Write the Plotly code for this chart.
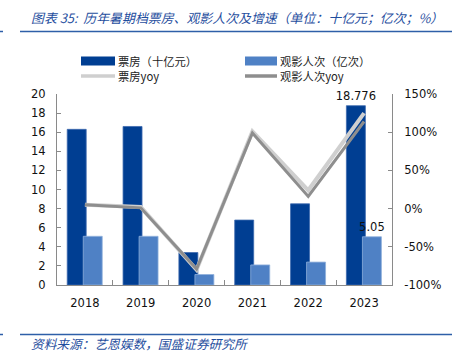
import plotly.graph_objects as go

years = ["2018", "2019", "2020", "2021", "2022", "2023"]
box_office = [16.3, 16.6, 3.4, 6.8, 8.5, 18.776]
admissions = [5.1, 5.1, 1.1, 2.1, 2.4, 5.05]
box_yoy = [5, 2, -80, 101, 24, 125]
adm_yoy = [5, 1, -79, 99, 16, 114]
left_ticks = list(range(0, 21, 2))
right_ticks = [-100, -50, 0, 50, 100, 150]
right_labels = ["-100%", "-50%", "0%", "50%", "100%", "150%"]

DARK = "#003E92"
LIGHT = "#4F81C5"
LGRAY = "#CFCFCF"
DGRAY = "#8E8E8E"
BLUE_T = "#1F4E9E"
AX = "#8A8A8A"
FONT = "DejaVu Sans"
CJK = "Noto Sans CJK SC"

bo_text = ["" for _ in box_office]
bo_text[-1] = f"{box_office[-1]:.3f}"
ad_text = ["" for _ in admissions]
ad_text[-1] = f"{admissions[-1]:.2f}"

fig = go.Figure()
fig.add_trace(go.Bar(x=years, y=box_office, name="票房（十亿元）", marker_color=DARK,
                     marker_line=dict(color="#3D6AAE", width=0.8),
                     width=0.34, offset=-0.317, text=bo_text, textposition="outside",
                     constraintext="none",
                     textfont=dict(family=FONT, size=11.5, color="#111"), cliponaxis=False))
fig.add_trace(go.Bar(x=years, y=admissions, name="观影人次（亿次）", marker_color=LIGHT,
                     marker_line=dict(color="#8FB0DC", width=0.8),
                     width=0.34, offset=-0.03, text=ad_text, textposition="outside",
                     constraintext="none",
                     textfont=dict(family=FONT, size=11.5, color="#111"), cliponaxis=False))
fig.add_trace(go.Scatter(x=years, y=box_yoy, name="票房yoy", yaxis="y2", mode="lines",
                         line=dict(color=LGRAY, width=4)))
fig.add_trace(go.Scatter(x=years, y=adm_yoy, name="观影人次yoy", yaxis="y2", mode="lines",
                         line=dict(color=DGRAY, width=3)))

fig.update_layout(
    width=452, height=353,
    margin=dict(l=57, r=60, t=94, b=68),
    paper_bgcolor="white", plot_bgcolor="white",
    barmode="overlay", showlegend=False,
    font=dict(family=FONT, size=11.5, color="#111"),
    xaxis=dict(type="category", showline=True, linecolor=AX, linewidth=1,
               ticks="inside", tickson="boundaries", ticklen=5, tickcolor=AX,
               showgrid=False, tickfont=dict(family=FONT, size=11.5, color="#111"),
               ticklabelstandoff=7),
    yaxis=dict(range=[0, 20], tickvals=left_ticks, showline=True, linecolor=AX,
               ticks="inside", ticklen=4, tickcolor=AX, showgrid=False, zeroline=False,
               tickfont=dict(family=FONT, size=11.5, color="#111"), ticklabelstandoff=8),
    yaxis2=dict(range=[-100, 150], tickvals=right_ticks, ticktext=right_labels,
                overlaying="y", side="right", showline=True, linecolor=AX,
                ticks="inside", ticklen=4, tickcolor=AX, showgrid=False, zeroline=False,
                tickfont=dict(family=FONT, size=11.5, color="#111"), ticklabelstandoff=9),
)

def px_x(p):
    return (p - 57) / 335

def px_y(p):
    return (285 - p) / 191

# title & footer
fig.add_annotation(text="图表 35:  历年暑期档票房、观影人次及增速（单位：十亿元；亿次；%）",
                   xref="paper", yref="paper", x=px_x(30), y=px_y(17),
                   xanchor="left", yanchor="middle", showarrow=False, borderpad=0,
                   font=dict(family=CJK, size=12.9, color=BLUE_T, style="italic"))
fig.add_annotation(text="资料来源：艺恩娱数，国盛证券研究所",
                   xref="paper", yref="paper", x=px_x(30), y=px_y(343.5),
                   xanchor="left", yanchor="middle", showarrow=False, borderpad=0,
                   font=dict(family=CJK, size=12.7, color=BLUE_T, style="italic"))

for yy in (31.5, 334.5):
    fig.add_shape(type="line", xref="paper", yref="paper", x0=px_x(20), x1=px_x(452),
                  y0=px_y(yy), y1=px_y(yy), line=dict(color="#2E5FA8", width=1.5))
    fig.add_shape(type="line", xref="paper", yref="paper", x0=px_x(0), x1=px_x(3),
                  y0=px_y(yy), y1=px_y(yy), line=dict(color="#2E5FA8", width=1.5))

# legend (manual)
legend_items = [
    ("rect", DARK, 81, 115, 61, "票房（十亿元）", 117),
    ("rect", LIGHT, 245, 277, 61, "观影人次（亿次）", 279),
    ("line", LGRAY, 81, 115, 76, "票房yoy", 117),
    ("line", DGRAY, 245, 277, 76, "观影人次yoy", 279),
]
for kind, col, x0, x1, yc, label, tx in legend_items:
    if kind == "rect":
        fig.add_shape(type="rect", xref="paper", yref="paper", x0=px_x(x0), x1=px_x(x1),
                      y0=px_y(yc + 4.5), y1=px_y(yc - 4.5), fillcolor=col, line=dict(width=0))
    else:
        fig.add_shape(type="line", xref="paper", yref="paper", x0=px_x(x0), x1=px_x(x1),
                      y0=px_y(yc), y1=px_y(yc), line=dict(color=col, width=3.5))
    fig.add_annotation(text=label, xref="paper", yref="paper", x=px_x(tx), y=px_y(yc),
                       xanchor="left", yanchor="middle", showarrow=False, borderpad=0,
                       font=dict(family=CJK, size=11.3, color="#222"))

fig.write_html("out.html")
